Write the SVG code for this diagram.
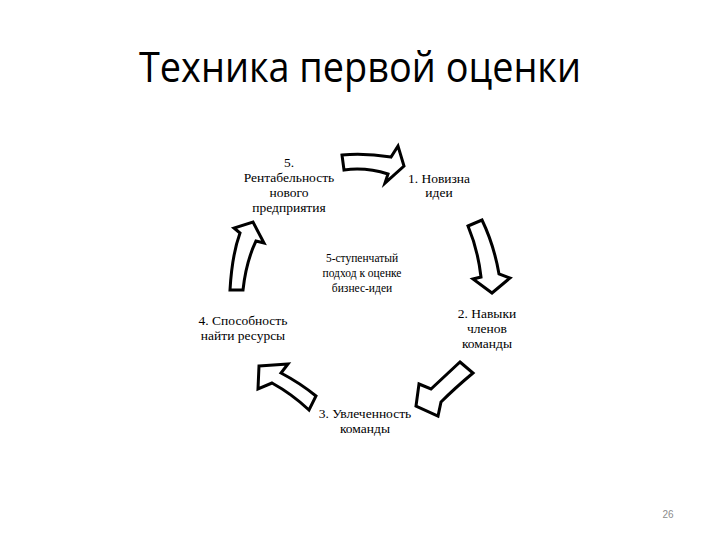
<svg xmlns="http://www.w3.org/2000/svg" width="720" height="540" viewBox="0 0 720 540">
<style>
.title{font-family:"Open Sans","Liberation Sans",sans-serif;font-size:42px;fill:#000;text-anchor:middle}
.lbl{font-family:"Liberation Serif",serif;font-size:13.5px;fill:#000;text-anchor:middle}
.ctr{font-family:"Liberation Serif",serif;font-size:11.5px;fill:#000;text-anchor:middle}
.pg{font-family:"Liberation Sans",sans-serif;font-size:10px;fill:#8c8c8c;text-anchor:middle}
.arr{fill:#fff;stroke:#000;stroke-width:3;stroke-linejoin:miter}
</style>
<rect width="720" height="540" fill="#fff"/>
<text class="title" x="360" y="82" textLength="442" lengthAdjust="spacingAndGlyphs">Техника первой оценки</text>
<g id="connectors">
<path class="arr" d="M342,155 Q365,153 391,157 L398,146 L404,166 L385,183 L388,174 Q366,167 344,170 Z"/>
<path class="arr" d="M468,226 L482,220 Q494,245 499,274 L510,278 L492,293 L473,279 L481,277 Q478,250 468,226 Z"/>
<path class="arr" d="M460,362 L473,373 Q455,388 441,402 L438,416 L416,406 L419,384 L431,389 Q446,375 460,362 Z"/>
<path class="arr" d="M259,366 L288,364 L281,373 Q300,383 316,396 L309,410 Q292,394 272,383 L258,389 Z"/>
<path class="arr" d="M230,290 Q232,255 240,233 L234,228 L253,222 L264,243 L256,241 Q246,262 243,290 Z"/>
</g>
<g id="node5">
<text class="lbl" x="289" y="167">5.</text>
<text class="lbl" x="289" y="182">Рентабельность</text>
<text class="lbl" x="289" y="197">нового</text>
<text class="lbl" x="289" y="212">предприятия</text>
</g>
<g id="node1">
<text class="lbl" x="439" y="183">1. Новизна</text>
<text class="lbl" x="439" y="197">идеи</text>
</g>
<g id="center">
<text class="ctr" x="362" y="262">5-ступенчатый</text>
<text class="ctr" x="362" y="277">подход к оценке</text>
<text class="ctr" x="362" y="292">бизнес-идеи</text>
</g>
<g id="node2">
<text class="lbl" x="487" y="318">2. Навыки</text>
<text class="lbl" x="487" y="333">членов</text>
<text class="lbl" x="487" y="348">команды</text>
</g>
<g id="node3">
<text class="lbl" x="365" y="418">3. Увлеченность</text>
<text class="lbl" x="365" y="433">команды</text>
</g>
<g id="node4">
<text class="lbl" x="243" y="325">4. Способность</text>
<text class="lbl" x="243" y="340">найти ресурсы</text>
</g>
<text class="pg" x="668" y="518">26</text>
</svg>
